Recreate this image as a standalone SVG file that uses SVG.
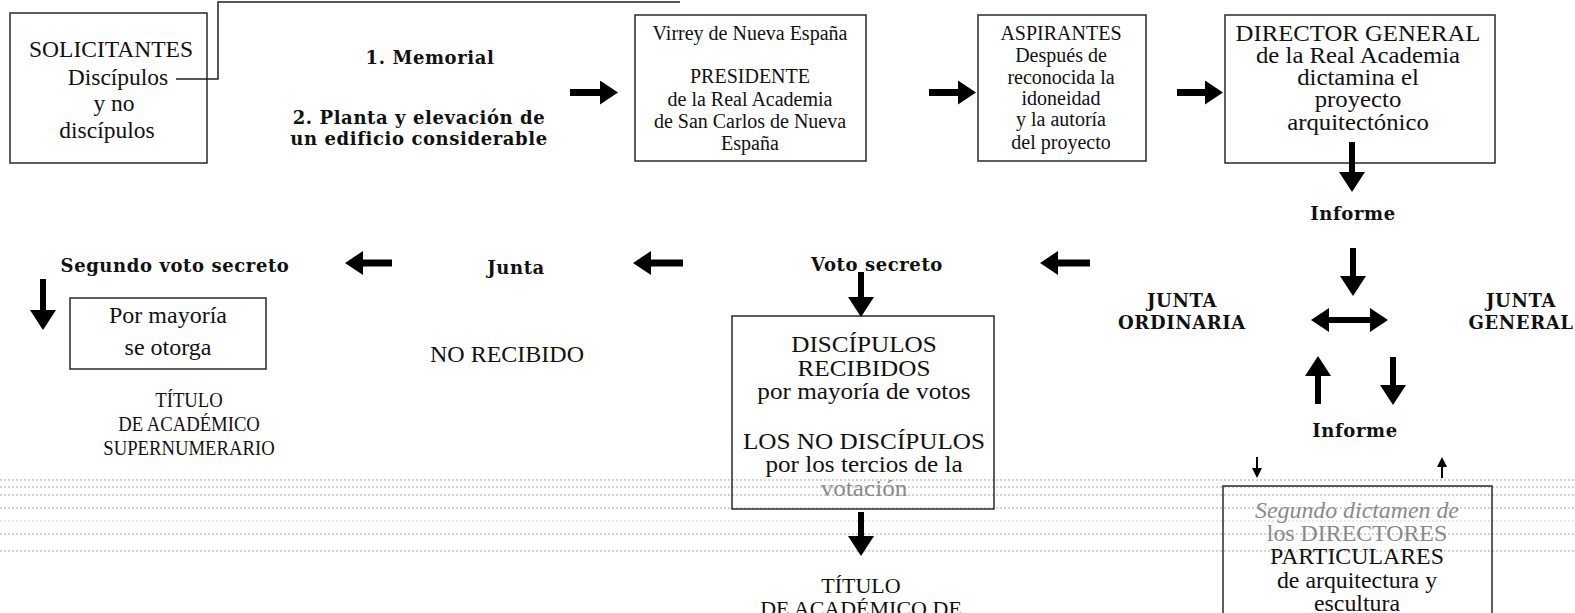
<svg xmlns="http://www.w3.org/2000/svg" width="1575" height="613" viewBox="0 0 1575 613">
<style>
.box{fill:none;stroke:#2a2a2a;stroke-width:1.5}
.t{font-family:"Liberation Serif",serif;font-size:20px;fill:#111;text-anchor:middle}
.l{font-size:22.5px}
.m{font-size:23.5px}
.p{font-size:24px}
.s{font-size:22px}
.k{font-size:22px}
.b{font-family:"DejaVu Serif",serif;font-weight:bold;font-size:18px;letter-spacing:0.6px;fill:#111;text-anchor:middle}
.fade{fill:#8a8a8a}
.it{font-style:italic}
.arr{stroke:#000;stroke-width:7;fill:none;marker-end:url(#head)}
.arrt{stroke:#000;stroke-width:6;fill:none;marker-end:url(#headV)}
.dbl{stroke:#000;stroke-width:6;fill:none;marker-end:url(#head);marker-start:url(#head)}
.sm{stroke:#000;stroke-width:2;fill:none;marker-end:url(#headS)}
.thin{stroke:#222;stroke-width:1.5;fill:none}
.scan{stroke:#a8a8a8;stroke-width:1;stroke-dasharray:2 2;fill:none}
</style>
<defs>
<marker id="head" viewBox="0 0 18 24" refX="2" refY="12" markerWidth="18" markerHeight="24" markerUnits="userSpaceOnUse" orient="auto-start-reverse"><path d="M0,0 L18,12 L0,24 Z" fill="#000"/></marker>
<marker id="headV" viewBox="0 0 20 26" refX="2" refY="13" markerWidth="20" markerHeight="26" markerUnits="userSpaceOnUse" orient="auto"><path d="M0,0 L20,13 L0,26 Z" fill="#000"/></marker>
<marker id="headS" viewBox="0 0 10 10" refX="1" refY="5" markerWidth="10" markerHeight="10" markerUnits="userSpaceOnUse" orient="auto"><path d="M0,0 L10,5 L0,10 Z" fill="#000"/></marker>
</defs>
<rect width="1575" height="613" fill="#fff"/>

<g id="scan-artifacts">
<path class="scan" d="M0,480 H1575 M0,487 H1575 M0,495 H1575 M0,508 H1575 M0,534 H1575 M0,551 H1575"/>
<path class="scan" stroke-opacity="0.5" d="M0,521 H1575"/>
</g>

<g id="solicitantes">
<rect class="box" x="10" y="13" width="197" height="150"/>
<text class="t m" x="111" y="57">SOLICITANTES</text>
<text class="t m" x="118" y="85">Discípulos</text>
<text class="t m" x="114" y="111">y no</text>
<text class="t m" x="107" y="138">discípulos</text>
</g>

<g id="requisitos">
<text class="b" x="430" y="64">1. Memorial</text>
<text class="b" x="419" y="124">2. Planta y elevación de</text>
<text class="b" x="419" y="145">un edificio considerable</text>
</g>

<g id="virrey">
<rect class="box" x="635" y="15" width="231" height="146"/>
<text class="t" x="750" y="40">Virrey de Nueva España</text>
<text class="t" x="750" y="83">PRESIDENTE</text>
<text class="t" x="750" y="106">de la Real Academia</text>
<text class="t" x="750" y="128">de San Carlos de Nueva</text>
<text class="t" x="750" y="150">España</text>
</g>

<g id="aspirantes">
<rect class="box" x="978" y="15" width="168" height="146"/>
<text class="t" x="1061" y="40">ASPIRANTES</text>
<text class="t" x="1061" y="62">Después de</text>
<text class="t" x="1061" y="84">reconocida la</text>
<text class="t" x="1061" y="105">idoneidad</text>
<text class="t" x="1061" y="126">y la autoría</text>
<text class="t" x="1061" y="149">del proyecto</text>
</g>

<g id="director">
<rect class="box" x="1225" y="15" width="270" height="148"/>
<g transform="translate(1358,0) scale(1.1,1)">
<text class="t l" x="0" y="41">DIRECTOR GENERAL</text>
<text class="t l" x="0" y="63">de la Real Academia</text>
<text class="t l" x="0" y="85">dictamina el</text>
<text class="t l" x="0" y="107">proyecto</text>
<text class="t l" x="0" y="130">arquitectónico</text>
</g>
</g>

<g id="informe1"><text class="b" x="1353" y="220">Informe</text></g>

<g id="junta-ordinaria">
<text class="b" x="1182" y="307">JUNTA</text>
<text class="b" x="1182" y="329">ORDINARIA</text>
</g>
<g id="junta-general">
<text class="b" x="1521" y="307">JUNTA</text>
<text class="b" x="1521" y="329">GENERAL</text>
</g>

<g id="informe2"><text class="b" x="1355" y="437">Informe</text></g>

<g id="directores-particulares">
<path class="box" d="M1223,640 V486 H1492 V640"/>
<g transform="translate(1357,0) scale(1.06,1)">
<text class="t l fade it" x="0" y="518">Segundo dictamen de</text>
<text class="t l fade" x="0" y="541">los DIRECTORES</text>
<text class="t l" x="0" y="564">PARTICULARES</text>
<text class="t l" x="0" y="588">de arquitectura y</text>
<text class="t l" x="0" y="611">escultura</text>
</g>
</g>

<g id="voto-secreto"><text class="b" x="877" y="271">Voto secreto</text></g>
<g id="junta"><text class="b" x="516" y="274">Junta</text></g>
<g id="segundo-voto"><text class="b" x="175" y="272">Segundo voto secreto</text></g>

<g id="por-mayoria">
<rect class="box" x="70" y="298" width="196" height="71"/>
<text class="t p" x="168" y="323">Por mayoría</text>
<text class="t p" x="168" y="355">se otorga</text>
</g>

<g id="titulo-supernumerario">
<g transform="translate(189,0) scale(0.85,1)">
<text class="t s" x="0" y="407">TÍTULO</text>
<text class="t s" x="0" y="431">DE ACADÉMICO</text>
<text class="t s" x="0" y="455">SUPERNUMERARIO</text>
</g>
</g>

<g id="no-recibido"><text class="t p" x="507" y="362">NO RECIBIDO</text></g>

<g id="discipulos-recibidos">
<rect class="box" x="732" y="316" width="262" height="193"/>
<g transform="translate(864,0) scale(1.12,1)">
<text class="t l" x="0" y="352.5">DISCÍPULOS</text>
<text class="t l" x="0" y="376.5">RECIBIDOS</text>
<text class="t l" x="0" y="399.5">por mayoría de votos</text>
<text class="t l" x="0" y="449.5">LOS NO DISCÍPULOS</text>
<text class="t l" x="0" y="472.5">por los tercios de la</text>
<text class="t l fade" x="0" y="496.5">votación</text>
</g>
</g>

<g id="titulo-academico">
<text class="t k" x="861" y="593">TÍTULO</text>
<text class="t k" x="861" y="616">DE ACADÉMICO DE</text>
</g>

<g id="connectors">
<path class="thin" d="M176,79 H218 V2 H680"/>
<line class="arr" x1="570" y1="92.5" x2="602" y2="92.5"/>
<line class="arr" x1="929" y1="92.5" x2="960" y2="92.5"/>
<line class="arr" x1="1177" y1="92.5" x2="1207" y2="92.5"/>
<line class="arr" x1="392" y1="263" x2="361" y2="263"/>
<line class="arr" x1="683" y1="263" x2="649" y2="263"/>
<line class="arr" x1="1090" y1="263" x2="1056" y2="263"/>
<line class="arrt" x1="1352" y1="142" x2="1352" y2="174"/>
<line class="arrt" x1="1353" y1="248" x2="1353" y2="278"/>
<line class="dbl" x1="1327" y1="320" x2="1372" y2="320"/>
<line class="arrt" x1="1318" y1="404" x2="1318" y2="374"/>
<line class="arrt" x1="1393" y1="357" x2="1393" y2="387"/>
<line class="sm" x1="1257" y1="457" x2="1257" y2="469"/>
<line class="sm" x1="1442" y1="478" x2="1442" y2="466"/>
<line class="arrt" x1="861" y1="272" x2="861" y2="299"/>
<line class="arrt" x1="43" y1="279" x2="43" y2="312"/>
<line class="arrt" x1="861" y1="512" x2="861" y2="538"/>
</g>
</svg>
